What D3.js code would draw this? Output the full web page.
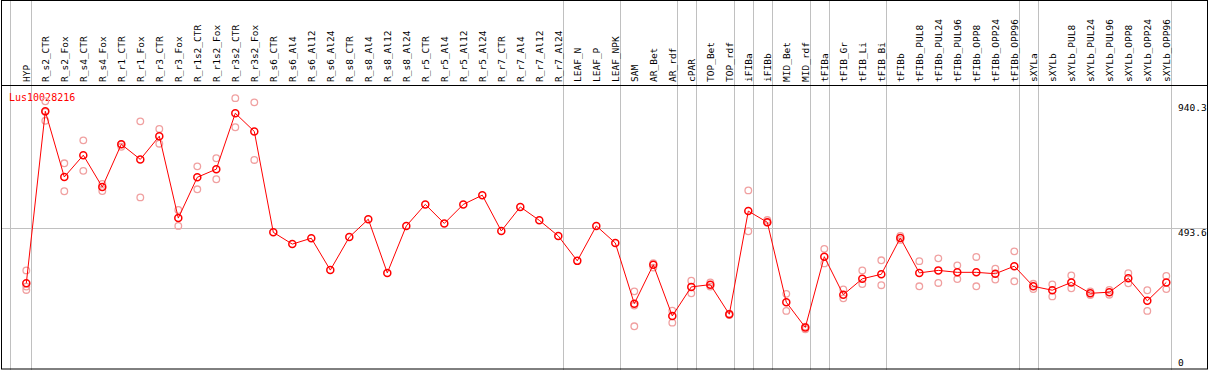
<!DOCTYPE html>
<html>
<head>
<meta charset="utf-8">
<script src="https://cdn.jsdelivr.net/npm/d3@7"></script>
<style>
  html, body { margin: 0; padding: 0; background: #fff; }
  svg { display: block; }
</style>
</head>
<body>
<div id="chart"></div>
<script>
const categories = ["HYP", "R_s2_CTR", "R_s2_Fox", "R_s4_CTR", "R_s4_Fox", "R_r1_CTR", "R_r1_Fox",
  "R_r3_CTR", "R_r3_Fox", "R_r1s2_CTR", "R_r1s2_Fox", "R_r3s2_CTR", "R_r3s2_Fox",
  "R_s6_CTR", "R_s6_Al4", "R_s6_Al12", "R_s6_Al24", "R_s8_CTR", "R_s8_Al4", "R_s8_Al12", "R_s8_Al24",
  "R_r5_CTR", "R_r5_Al4", "R_r5_Al12", "R_r5_Al24", "R_r7_CTR", "R_r7_Al4", "R_r7_Al12", "R_r7_Al24",
  "LEAF_N", "LEAF_P", "LEAF_NPK", "SAM", "AR_Bet", "AR_rdf", "cPAR", "TOP_Bet", "TOP_rdf",
  "iFIBa", "iFIBb", "MID_Bet", "MID_rdf", "tFIBa", "tFIB_Gr", "tFIB_Li", "tFIB_Bi",
  "tFIBb", "tFIBb_PUL8", "tFIBb_PUL24", "tFIBb_PUL96", "tFIBb_OPP8", "tFIBb_OPP24", "tFIBb_OPP96",
  "sXYLa", "sXYLb", "sXYLb_PUL8", "sXYLb_PUL24", "sXYLb_PUL96", "sXYLb_OPP8", "sXYLb_OPP24", "sXYLb_OPP96"];

// mean expression per sample
const means = [296, 911, 676, 754, 640, 793, 739, 822, 529, 675, 704, 904, 839,
  478, 436, 457, 343, 461, 525, 333, 501, 578, 510, 578, 611, 483, 569, 521, 465,
  376, 501, 440, 223, 362, 179, 283, 291, 185, 554, 514, 228, 138, 391, 255, 312, 328,
  458, 333, 342, 335, 335, 330, 357, 285, 271, 299, 260, 264, 314, 233, 299];

// replicate values per sample
const replicates = [
  [342, 284, 272], [947, 877, 909], [725, 625], [807, 698], [651, 626], [793, 784], [875, 603],
  [848, 795], [558, 501], [714, 632], [743, 668], [958, 854], [943, 737],
  [], [], [], [], [], [], [], [], [], [], [], [], [], [], [], [],
  [], [], [], [267, 216, 142], [368, 352], [198, 155], [305, 260], [299, 284], [187, 182],
  [628, 482], [522, 513], [258, 197], [131, 141], [419, 367], [274, 242], [342, 293], [378, 289],
  [465, 451], [375, 285], [385, 297], [360, 311], [390, 285], [348, 309], [410, 303],
  [294, 275], [292, 249], [324, 278], [267, 254], [272, 255], [332, 296], [271, 197], [322, 275]];

// last sample of each group (a separator line follows it)
const groupEnds = ["HYP", "R_r7_Al24", "LEAF_NPK", "AR_rdf", "cPAR", "TOP_rdf", "iFIBa", "iFIBb",
  "MID_rdf", "tFIBa", "tFIB_Bi", "tFIBb_OPP96", "sXYLa", "sXYLb_OPP96"];

const yMax = 940.3;
const yLabels = [940.3, 493.6, 0];
const gridValues = [493.6];
const geneName = "Lus10028216";

const width = 1209;
const height = 370;
const headerBottom = 85;
const mono = "'DejaVu Sans Mono', 'Liberation Mono', monospace";
const red = "#ff0000";
const repColor = "#f0a0a0";
const gridColor = "#c0c0c0";

const svg = d3.select("#chart").append("svg")
  .attr("width", width)
  .attr("height", height);

const x = d3.scalePoint()
  .domain(categories)
  .range([26.3, 1166.3]);

const y = d3.scaleLinear()
  .domain([0, yMax])
  .range([366, 103.1]);

// vertical separators
svg.append("line")
  .attr("x1", 10.5).attr("x2", 10.5)
  .attr("y1", 0).attr("y2", height)
  .attr("stroke", gridColor);

svg.append("g")
  .selectAll("line")
  .data(groupEnds)
  .join("line")
  .attr("x1", d => Math.round(x(d) + 4.4) + 0.5)
  .attr("x2", d => Math.round(x(d) + 4.4) + 0.5)
  .attr("y1", 0)
  .attr("y2", height)
  .attr("stroke", gridColor);

// horizontal grid
svg.append("g")
  .selectAll("line")
  .data(gridValues)
  .join("line")
  .attr("x1", 1).attr("x2", width - 1)
  .attr("y1", d => Math.round(y(d)) + 0.5)
  .attr("y2", d => Math.round(y(d)) + 0.5)
  .attr("stroke", gridColor);

// frame
svg.append("rect")
  .attr("x", 1.5).attr("y", 0.5)
  .attr("width", width - 3).attr("height", height - 1.5)
  .attr("fill", "none")
  .attr("stroke", "#000");

svg.append("line")
  .attr("x1", 1).attr("x2", width - 1)
  .attr("y1", headerBottom + 0.5).attr("y2", headerBottom + 0.5)
  .attr("stroke", "#000");

// header labels
svg.append("g")
  .selectAll("text")
  .data(categories)
  .join("text")
  .attr("transform", d => `translate(${x(d) + 3.5},82) rotate(-90)`)
  .attr("font-family", mono)
  .attr("font-size", 9.5)
  .attr("fill", "#000")
  .text(d => d);

// y labels on the right, clipped by the frame
svg.append("clipPath").attr("id", "clip")
  .append("rect").attr("x", 0).attr("y", 0).attr("width", width - 2).attr("height", height);

svg.append("g")
  .attr("clip-path", "url(#clip)")
  .selectAll("text")
  .data(yLabels)
  .join("text")
  .attr("x", 1178)
  .attr("y", d => Math.min(y(d) + 1, height - 11))
  .attr("dominant-baseline", "hanging")
  .attr("font-family", mono)
  .attr("font-size", 9.5)
  .attr("fill", "#000")
  .text(d => d);

// gene name
svg.append("text")
  .attr("x", 9)
  .attr("y", 100.5)
  .attr("font-family", mono)
  .attr("font-size", 10)
  .attr("fill", red)
  .text(geneName);

// replicates
const repPoints = replicates.flatMap((vals, i) => vals.map(v => ({ c: categories[i], v })));
svg.append("g")
  .selectAll("circle")
  .data(repPoints)
  .join("circle")
  .attr("cx", d => x(d.c))
  .attr("cy", d => y(d.v))
  .attr("r", 3.3)
  .attr("fill", "none")
  .attr("stroke", repColor)
  .attr("stroke-width", 1.3);

// mean line
const meanPoints = categories.map((c, i) => ({ c, v: means[i] }));
svg.append("path")
  .datum(meanPoints)
  .attr("fill", "none")
  .attr("stroke", red)
  .attr("stroke-width", 1)
  .attr("d", d3.line().x(d => x(d.c)).y(d => y(d.v)));

svg.append("g")
  .selectAll("circle")
  .data(meanPoints)
  .join("circle")
  .attr("cx", d => x(d.c))
  .attr("cy", d => y(d.v))
  .attr("r", 3.5)
  .attr("fill", "none")
  .attr("stroke", red)
  .attr("stroke-width", 1.5);
</script>
</body>
</html>
